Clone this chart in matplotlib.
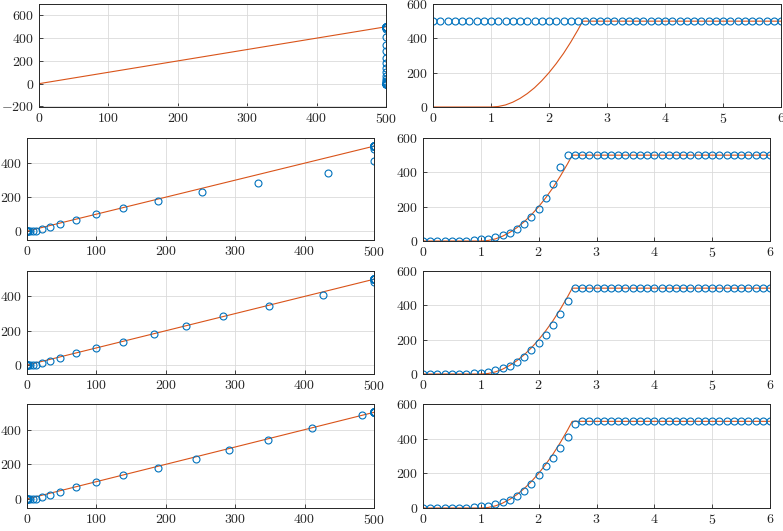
import numpy as np
import matplotlib
matplotlib.use('Agg')
import matplotlib.pyplot as plt

plt.rcParams['font.family'] = 'serif'
plt.rcParams['font.serif'] = ['cmr10']
plt.rcParams['mathtext.fontset'] = 'cm'
plt.rcParams['axes.formatter.use_mathtext'] = True
plt.rcParams['font.size'] = 10

# sample times (right column x axis)
t = [0.0, 0.125, 0.25, 0.375, 0.5, 0.625, 0.75, 0.875,
     1.0, 1.125, 1.25, 1.375, 1.5, 1.625, 1.75, 1.875,
     2.0, 2.125, 2.25, 2.375, 2.5, 2.625, 2.75, 2.875,
     3.0, 3.125, 3.25, 3.375, 3.5, 3.625, 3.75, 3.875,
     4.0, 4.125, 4.25, 4.375, 4.5, 4.625, 4.75, 4.875,
     5.0, 5.125, 5.25, 5.375, 5.5, 5.625, 5.75, 5.875, 6.0]

# reference values (y of left column)
ref = [0, 0, 0, 0, 0, 0, 0, 0, 0, 2, 12, 23, 43, 68, 100, 137,
       180, 228, 283, 343, 410, 482] + [500] * 27

# estimates, one per row
est1 = [500] * 49
est2 = [0, 0, 0, 0, 0, 1, 2, 4, 9, 13, 21, 33, 48, 70, 100, 138,
        189, 252, 333, 433, 500, 500] + [500] * 27
est3 = [0, 0, 0, 0, 0, 1, 2, 4, 8, 13, 21, 33, 48, 70, 100, 138,
        183, 229, 283, 349, 426, 500] + [500] * 27
est4 = [0, 0, 0, 0, 0, 1, 2, 4, 9, 13, 21, 33, 48, 70, 100, 138,
        189, 243, 291, 347, 410, 482] + [500] * 27
estimates = [est1, est2, est3, est4]

# true curve (orange line, right column)
curve_t = [0.0, 1.0, 1.125, 1.25, 1.375, 1.5, 1.625, 1.75, 1.875,
           2.0, 2.125, 2.25, 2.375, 2.5, 2.58, 6.0]
curve_y = [0, 0, 3, 12, 28, 50, 78, 112, 153,
           200, 253, 312, 378, 450, 500, 500]

# identity line (left column)
diag_x = [0, 500]
diag_y = [0, 500]

blue = '#0072BD'
orange = '#D95319'

W, H = 783, 531
fig = plt.figure(figsize=(W / 100, H / 100), dpi=100)

#axes boxes in pixels: x0, y0(top), x1, y1(bottom)
left_boxes = [(39, 4, 386, 107), (27, 138, 374, 240), (27, 271, 374, 374), (27, 404, 374, 508)]
right_boxes = [(433, 4, 781, 107), (423, 138, 770, 241), (423, 271, 770, 374), (423, 404, 770, 508)]

def make_ax(box):
  x0, y0, x1, y1 = box
  ax = fig.add_axes([x0 / W, (H - y1) / H, (x1 - x0) / W, (y1 - y0) / H])
  ax.grid(True, color='#dadada', linewidth=0.6)
  ax.set_axisbelow(True)
  for s in ax.spines.values():
    s.set_color('#262626')
    s.set_linewidth(0.7)
  ax.tick_params(direction='in', length=3, width=0.6, color='#262626', labelcolor='#262626')
  return ax

for i in range(4):
  # left: reference vs estimate
  ax = make_ax(left_boxes[i])
  ax.plot(diag_x, diag_y, color=orange, linewidth=0.8)
  ax.plot(estimates[i], ref, 'o', mfc='none', mec=blue, ms=5, mew=0.8)
  ax.set_xlim(0, 500)
  ax.set_xticks([0, 100, 200, 300, 400, 500])
  if i == 0:
    ax.set_ylim(-205, 700)
    ax.set_yticks([-200, 0, 200, 400, 600])
  else:
    ax.set_ylim(-52, 548)
    ax.set_yticks([0, 200, 400])

  # right: time series
  ax = make_ax(right_boxes[i])
  ax.plot(curve_t, curve_y, color=orange, linewidth=0.8)
  ax.plot(t, estimates[i], 'o', mfc='none', mec=blue, ms=5, mew=0.8)
  ax.set_xlim(0, 6)
  ax.set_ylim(0, 600)
  ax.set_xticks([0, 1, 2, 3, 4, 5, 6])
  ax.set_yticks([0, 200, 400, 600])

fig.savefig('out.png', dpi=100)
